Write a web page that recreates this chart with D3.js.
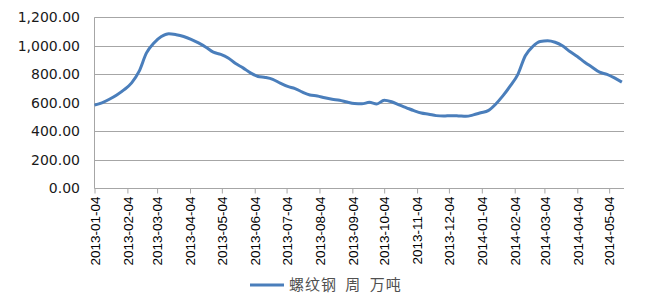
<!DOCTYPE html>
<html>
<head>
<meta charset="utf-8">
<script src="https://cdn.jsdelivr.net/npm/d3@7"></script>
<style>
  body { margin: 0; background: #fff; }
</style>
</head>
<body>
<script>
// weekly rebar stock, 10k tonnes
var startDate = "2013-01-04";
var values = [
  584, 600, 625, 655, 692, 740, 820, 950, 1020, 1065,
  1085, 1078, 1065, 1045, 1020, 990, 955, 940, 915, 875,
  845, 810, 785, 778, 765, 738, 715, 700, 675, 655,
  648, 635, 625, 618, 605, 595, 593, 603, 592, 618,
  607, 585, 565, 545, 528, 520, 510, 507, 510, 508,
  505, 515, 530, 545, 590, 650, 720, 800, 930, 995,
  1030, 1035, 1025, 1000, 960, 925, 885, 850, 815, 800,
  775, 745
];
var tickLabels = [
  "2013-01-04", "2013-02-04", "2013-03-04", "2013-04-04", "2013-05-04",
  "2013-06-04", "2013-07-04", "2013-08-04", "2013-09-04", "2013-10-04",
  "2013-11-04", "2013-12-04", "2014-01-04", "2014-02-04", "2014-03-04",
  "2014-04-04", "2014-05-04"
];
var yTicks = [0, 200, 400, 600, 800, 1000, 1200];
var seriesName = "螺纹钢 周 万吨";

var width = 651,
    height = 300,
    plotLeft = 94.5,
    plotRight = 624,
    plotTop = 17.3,
    plotBottom = 188.3;

var parse = d3.timeParse("%Y-%m-%d");
var fmt = d3.format(",.2f");

var start = parse(startDate);
var data = values.map(function(v, i) {
  return {date: d3.timeDay.offset(start, i * 7), value: v};
});

var x = d3.scaleTime()
    .domain([start, parse("2014-05-18")])
    .range([plotLeft, plotRight]);

var y = d3.scaleLinear()
    .domain([0, 1200])
    .range([plotBottom, plotTop]);

var svg = d3.select("body").append("svg")
    .attr("width", width)
    .attr("height", height);

// gridlines
svg.append("g")
    .selectAll("line")
    .data(yTicks)
    .enter().append("line")
    .attr("x1", plotLeft)
    .attr("x2", plotRight)
    .attr("y1", function(d) { return Math.round(y(d)) + 0.5; })
    .attr("y2", function(d) { return Math.round(y(d)) + 0.5; })
    .attr("stroke", "#a6a6a6")
    .attr("stroke-width", 1);

// y axis line
svg.append("line")
    .attr("x1", plotLeft)
    .attr("x2", plotLeft)
    .attr("y1", plotTop)
    .attr("y2", plotBottom)
    .attr("stroke", "#a6a6a6");

svg.append("g")
    .selectAll("text")
    .data(yTicks)
    .enter().append("text")
    .attr("x", 80)
    .attr("y", function(d) { return y(d); })
    .attr("dy", "0.35em")
    .attr("text-anchor", "end")
    .attr("font-family", "DejaVu Sans")
    .attr("font-size", "14px")
    .attr("fill", "#1a1a1a")
    .text(function(d) { return fmt(d); });

// x axis
var xAxis = d3.axisBottom(x)
    .tickValues(tickLabels.map(parse))
    .tickSize(5)
    .tickFormat(d3.timeFormat("%Y-%m-%d"));

var gx = svg.append("g")
    .attr("transform", "translate(0," + (Math.round(plotBottom) + 0.5) + ")")
    .call(xAxis);

gx.select(".domain")
    .attr("stroke", "#a6a6a6")
    .attr("d", "M" + plotLeft + ",0H" + plotRight);
gx.selectAll(".tick line").attr("stroke", "#a6a6a6");
gx.selectAll(".tick text")
    .attr("font-family", "Liberation Sans")
    .attr("font-size", "13.5px")
    .attr("fill", "#000")
    .attr("transform", "rotate(-90)")
    .attr("text-anchor", "end")
    .attr("x", -8)
    .attr("y", 0)
    .attr("dy", "0.35em");

// series line
var line = d3.line()
    .x(function(d) { return x(d.date); })
    .y(function(d) { return y(d.value); })
    .curve(d3.curveMonotoneX);

svg.append("path")
    .datum(data)
    .attr("d", line)
    .attr("fill", "none")
    .attr("stroke", "#4a7ebb")
    .attr("stroke-width", 3)
    .attr("stroke-linejoin", "round");

// legend
var legend = svg.append("g");
legend.append("line")
    .attr("x1", 250)
    .attr("x2", 284)
    .attr("y1", 285)
    .attr("y2", 285)
    .attr("stroke", "#4a7ebb")
    .attr("stroke-width", 3);
legend.append("text")
    .attr("x", 289)
    .attr("y", 285)
    .attr("dy", "0.35em")
    .attr("font-family", "Noto Sans CJK SC")
    .attr("font-size", "15px")
    .attr("fill", "#505050")
    .style("word-spacing", "4px")
    .style("letter-spacing", "1px")
    .text(seriesName);
</script>
</body>
</html>
